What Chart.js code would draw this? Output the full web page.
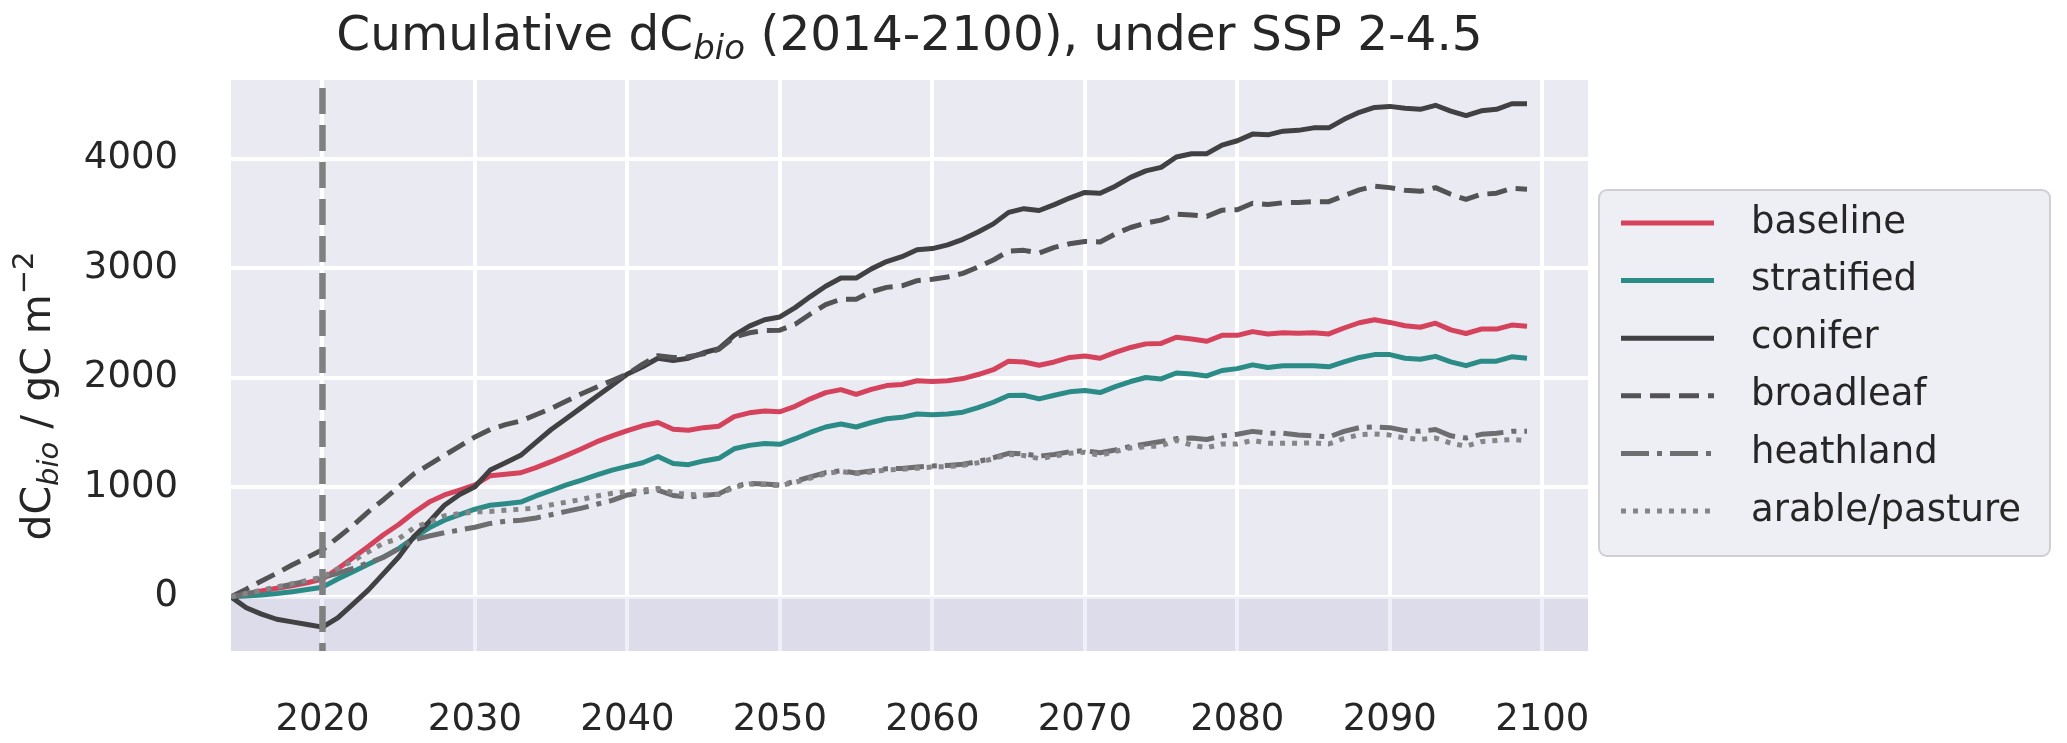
<!DOCTYPE html>
<html>
<head>
<meta charset="utf-8">
<script src="https://cdn.jsdelivr.net/npm/chart.js@4.4.1/dist/chart.umd.min.js"></script>
<style>
  html, body { margin: 0; padding: 0; background: #ffffff; }
  canvas { display: block; }
</style>
</head>
<body>
<canvas id="c" width="2067" height="743"></canvas>
<script>
// years 2014-2099
const years = [
  2014, 2015, 2016, 2017, 2018, 2019, 2020, 2021, 2022, 2023, 2024, 2025, 2026, 2027, 2028, 2029,
  2030, 2031, 2032, 2033, 2034, 2035, 2036, 2037, 2038, 2039, 2040, 2041, 2042, 2043, 2044,
  2045, 2046, 2047, 2048, 2049, 2050, 2051, 2052, 2053, 2054, 2055, 2056, 2057, 2058, 2059,
  2060, 2061, 2062, 2063, 2064, 2065, 2066, 2067, 2068, 2069, 2070, 2071, 2072, 2073, 2074,
  2075, 2076, 2077, 2078, 2079, 2080, 2081, 2082, 2083, 2084, 2085, 2086, 2087, 2088, 2089,
  2090, 2091, 2092, 2093, 2094, 2095, 2096, 2097, 2098, 2099
];

const baseline = [
  0, 27, 54, 78, 101, 128, 162, 256, 357, 459, 567, 660, 770, 865, 930, 975,
  1022, 1106, 1120, 1133, 1180, 1234, 1292, 1352, 1417, 1470, 1518, 1562, 1592, 1531, 1521,
  1545, 1558, 1646, 1680, 1696, 1690, 1740, 1808, 1865, 1892, 1848, 1895, 1929, 1939, 1973,
  1966, 1973, 1993, 2030, 2074, 2152, 2145, 2115, 2145, 2186, 2199, 2179, 2233, 2277, 2310,
  2314, 2371, 2354, 2334, 2388, 2388, 2422, 2401, 2411, 2408, 2411, 2401, 2455, 2503, 2530,
  2506, 2476, 2462, 2499, 2438, 2405, 2445, 2445, 2482, 2472
];

const stratified = [
  0, 7, 17, 30, 47, 67, 88, 162, 229, 297, 364, 440, 540, 630, 700, 750,
  800, 836, 850, 865, 921, 971, 1022, 1066, 1113, 1157, 1191, 1224, 1282, 1218, 1207,
  1241, 1265, 1352, 1383, 1400, 1393, 1444, 1501, 1551, 1578, 1551, 1592, 1626, 1639, 1669,
  1663, 1669, 1686, 1727, 1777, 1838, 1841, 1808, 1841, 1872, 1885, 1865, 1919, 1966, 2003,
  1990, 2044, 2034, 2017, 2067, 2084, 2118, 2094, 2111, 2111, 2111, 2101, 2145, 2186, 2212,
  2212, 2179, 2169, 2196, 2145, 2111, 2152, 2152, 2192, 2179
];

const conifer = [
  0, -100, -158, -205, -229, -253, -277, -192, -67, 61, 212, 364, 550, 685, 836, 935,
  1005, 1157, 1224, 1292, 1410, 1528, 1629, 1730, 1831, 1933, 2034, 2101, 2179, 2158, 2179,
  2229, 2266, 2388, 2472, 2530, 2556, 2641, 2742, 2836, 2911, 2911, 2995, 3062, 3106, 3170,
  3180, 3214, 3265, 3332, 3406, 3511, 3545, 3528, 3582, 3642, 3693, 3686, 3750, 3831, 3890,
  3922, 4017, 4047, 4047, 4125, 4165, 4226, 4219, 4253, 4260, 4283, 4283, 4361, 4425, 4469,
  4479, 4462, 4452, 4489, 4435, 4395, 4439, 4452, 4503, 4503
];

const broadleaf = [
  0, 70, 145, 215, 290, 360, 430, 540, 651, 776, 887, 1005, 1123, 1207, 1292, 1376,
  1460, 1528, 1572, 1605, 1663, 1720, 1788, 1855, 1916, 1976, 2034, 2125, 2202, 2185, 2192,
  2219, 2260, 2371, 2411, 2432, 2435, 2489, 2583, 2668, 2718, 2718, 2786, 2826, 2840, 2887,
  2900, 2921, 2954, 3012, 3076, 3157, 3164, 3140, 3191, 3224, 3245, 3241, 3315, 3373, 3413,
  3440, 3494, 3487, 3474, 3531, 3535, 3595, 3582, 3599, 3602, 3609, 3609, 3663, 3717, 3750,
  3737, 3713, 3703, 3737, 3676, 3629, 3676, 3686, 3730, 3723
];

const heathland = [
  0, 25, 55, 85, 115, 145, 175, 215, 260, 310, 360, 440, 520, 555, 585, 610,
  635, 670, 690, 700, 720, 750, 780, 810, 845, 880, 930, 955, 975, 925, 910,
  925, 940, 1010, 1035, 1030, 1020, 1055, 1095, 1135, 1150, 1130, 1150, 1170, 1172, 1185,
  1195, 1200, 1210, 1235, 1270, 1310, 1305, 1285, 1300, 1325, 1335, 1315, 1340, 1375, 1395,
  1418, 1445, 1450, 1437, 1470, 1484, 1511, 1494, 1494, 1477, 1470, 1460, 1511, 1545, 1551,
  1545, 1518, 1511, 1528, 1470, 1450, 1484, 1494, 1511, 1511
];

const arable = [
  0, 30, 60, 90, 120, 150, 180, 255, 330, 410, 490, 530, 630, 685, 740, 760,
  775, 780, 790, 800, 810, 840, 865, 890, 920, 945, 960, 975, 990, 950, 935,
  930, 935, 1000, 1030, 1025, 1015, 1045, 1085, 1125, 1145, 1125, 1140, 1160, 1165, 1175,
  1185, 1190, 1200, 1225, 1262, 1300, 1290, 1262, 1285, 1310, 1320, 1292, 1328, 1360, 1372,
  1378, 1429, 1386, 1361, 1396, 1396, 1429, 1403, 1403, 1403, 1406, 1396, 1446, 1480, 1487,
  1477, 1450, 1437, 1450, 1403, 1376, 1417, 1427, 1437, 1427
];

const seriesNames = ["baseline", "stratified", "conifer", "broadleaf", "heathland", "arable/pasture"];
const seriesValues = [baseline, stratified, conifer, broadleaf, heathland, arable];
const xTicks = [2020, 2030, 2040, 2050, 2060, 2070, 2080, 2090, 2100];
const yTicks = [0, 1000, 2000, 3000, 4000];
const scenarioStart = 2020;

const FONT = "'DejaVu Sans', sans-serif";
const TEXT = "#262626";

const lineStyles = [
  { color: "#d5425c", dash: [] },
  { color: "#2b8b86", dash: [] },
  { color: "#414143", dash: [] },
  { color: "#535355", dash: [20, 9] },
  { color: "#6e6e70", dash: [28, 8, 5, 8] },
  { color: "#858587", dash: [5, 7] }
];

function points(vals) {
  return years.map((yr, i) => ({ x: yr, y: vals[i] }));
}

function drawPieces(ctx, pieces, x, y) {
  pieces.forEach(p => {
    ctx.font = (p.italic ? "italic " : "") + p.size + "px " + FONT;
    ctx.fillText(p.t, x, y + (p.dy || 0));
    x += ctx.measureText(p.t).width;
  });
}

function piecesWidth(ctx, pieces) {
  let w = 0;
  pieces.forEach(p => {
    ctx.font = (p.italic ? "italic " : "") + p.size + "px " + FONT;
    w += ctx.measureText(p.t).width;
  });
  return w;
}

const decor = {
  id: "decor",
  beforeDraw(chart) {
    const { ctx, chartArea: a } = chart;
    ctx.save();
    ctx.fillStyle = "#ffffff";
    ctx.fillRect(0, 0, chart.width, chart.height);
    ctx.fillStyle = "#eaeaf2";
    ctx.fillRect(a.left, a.top, a.right - a.left, a.bottom - a.top);
    ctx.restore();
  },
  beforeDatasetsDraw(chart) {
    const { ctx, chartArea: a, scales } = chart;
    const y0 = scales.y.getPixelForValue(0);
    ctx.save();
    ctx.fillStyle = "rgba(120,120,190,0.12)";
    ctx.fillRect(a.left, y0, a.right - a.left, a.bottom - y0);
    ctx.restore();
  },
  afterDatasetsDraw(chart) {
    const { ctx, chartArea: a, scales } = chart;
    const x = scales.x.getPixelForValue(scenarioStart);
    ctx.save();
    ctx.beginPath();
    ctx.rect(a.left, a.top, a.right - a.left, a.bottom - a.top);
    ctx.clip();
    ctx.strokeStyle = "#808080";
    ctx.lineWidth = 6.5;
    ctx.setLineDash([26, 11]);
    ctx.beginPath();
    ctx.moveTo(x, a.top + 8);
    ctx.lineTo(x, a.bottom);
    ctx.stroke();
    ctx.restore();
  },
  afterDraw(chart) {
    const { ctx, chartArea: a } = chart;
    ctx.save();
    ctx.fillStyle = TEXT;
    ctx.textBaseline = "alphabetic";

    // title
    const title = [
      { t: "Cumulative dC", size: 48.5 },
      { t: "bio", size: 34, italic: true, dy: 9 },
      { t: " (2014-2100), under SSP 2-4.5", size: 48.5 }
    ];
    const tw = piecesWidth(ctx, title);
    drawPieces(ctx, title, (a.left + a.right) / 2 - tw / 2, 50);

    // y label
    const ylab = [
      { t: "dC", size: 41 },
      { t: "bio", size: 29, italic: true, dy: 8 },
      { t: " / gC m", size: 41 },
      { t: "\u22122", size: 29, dy: -17 }
    ];
    const lw = piecesWidth(ctx, ylab);
    ctx.save();
    ctx.translate(50, 396);
    ctx.rotate(-Math.PI / 2);
    drawPieces(ctx, ylab, -lw / 2, 0);
    ctx.restore();

    // legend
    const lx = 1599, ly = 190, lwid = 451, lh = 366;
    ctx.beginPath();
    ctx.roundRect(lx, ly, lwid, lh, 8);
    ctx.fillStyle = "rgba(234,234,242,0.8)";
    ctx.fill();
    ctx.strokeStyle = "#cfcfd4";
    ctx.lineWidth = 2;
    ctx.stroke();

    chart.data.datasets.forEach((ds, i) => {
      const yy = 223 + i * 57.6;
      ctx.strokeStyle = ds.borderColor;
      ctx.lineWidth = ds.borderWidth;
      ctx.setLineDash(ds.borderDash || []);
      ctx.beginPath();
      ctx.moveTo(1621, yy);
      ctx.lineTo(1714, yy);
      ctx.stroke();
      ctx.setLineDash([]);
      ctx.fillStyle = TEXT;
      ctx.font = "37px " + FONT;
      ctx.textBaseline = "middle";
      ctx.fillText(ds.label, 1751, yy);
    });
    ctx.restore();
  }
};

new Chart(document.getElementById("c"), {
  type: "line",
  data: {
    datasets: seriesNames.map((name, i) => ({
      label: name,
      data: points(seriesValues[i]),
      borderColor: lineStyles[i].color,
      borderDash: lineStyles[i].dash,
      borderWidth: 5,
      borderCapStyle: "butt",
      borderJoinStyle: "round",
      pointRadius: 0,
      fill: false,
      tension: 0,
      order: seriesNames.length - i
    }))
  },
  options: {
    responsive: false,
    animation: false,
    devicePixelRatio: 1,
    layout: { padding: { top: 80, right: 479, left: 0, bottom: 0 } },
    plugins: {
      legend: { display: false },
      title: { display: false },
      tooltip: { enabled: false }
    },
    scales: {
      x: {
        type: "linear",
        min: 2014,
        max: 2103,
        afterBuildTicks: s => { s.ticks = xTicks.map(v => ({ value: v })); },
        afterFit: s => { s.height = 92; },
        grid: { color: "#ffffff", lineWidth: 4, drawTicks: false },
        border: { display: false },
        ticks: {
          padding: 47,
          color: TEXT,
          font: { family: FONT, size: 37 },
          maxRotation: 0,
          callback: v => String(v)
        }
      },
      y: {
        type: "linear",
        min: -495,
        max: 4720,
        afterBuildTicks: s => { s.ticks = yTicks.map(v => ({ value: v })); },
        afterFit: s => { s.width = 231; },
        grid: { color: "#ffffff", lineWidth: 4, drawTicks: false },
        border: { display: false },
        ticks: {
          padding: 53,
          color: TEXT,
          font: { family: FONT, size: 37 },
          callback: v => String(v)
        }
      }
    }
  },
  plugins: [decor]
});
</script>
</body>
</html>
